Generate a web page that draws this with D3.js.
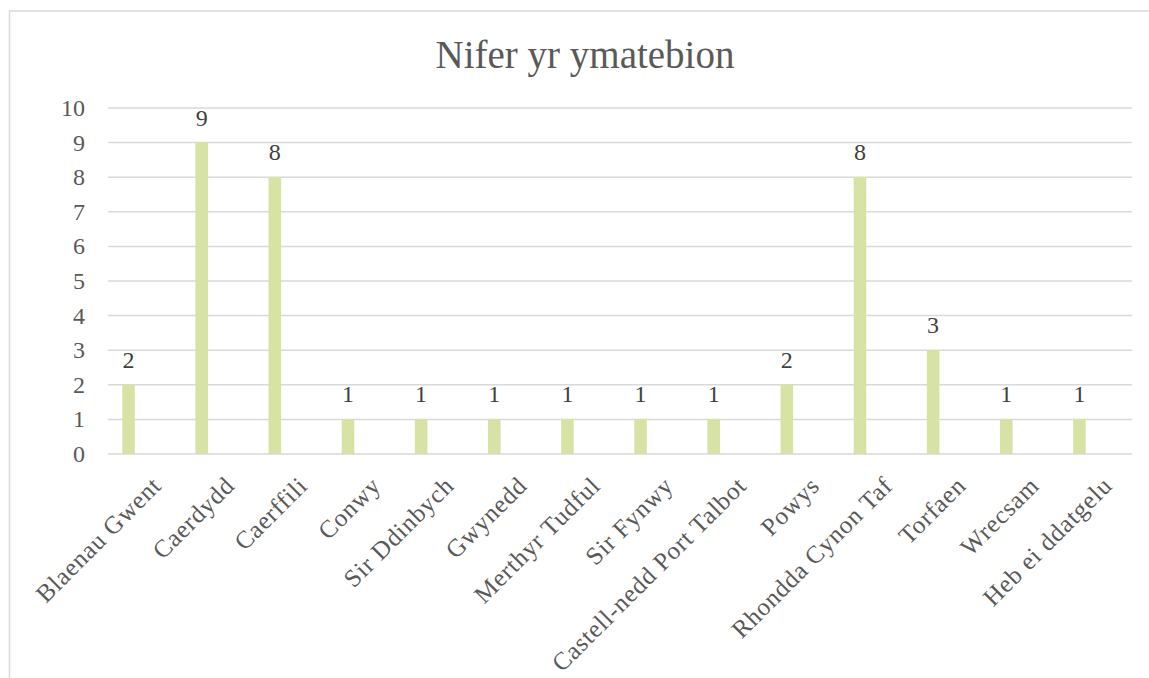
<!DOCTYPE html>
<html>
<head>
<meta charset="utf-8">
<script src="https://cdn.jsdelivr.net/npm/d3@7"></script>
<style>
  html, body { margin: 0; padding: 0; background: #fff; overflow: hidden; }
  svg { display: block; font-family: 'Liberation Serif', serif; }
</style>
</head>
<body>
<svg id="chart"></svg>
<script>
// data
const categories = [
  'Blaenau Gwent', 'Caerdydd', 'Caerffili', 'Conwy', 'Sir Ddinbych', 'Gwynedd',
  'Merthyr Tudful', 'Sir Fynwy', 'Castell-nedd Port Talbot', 'Powys',
  'Rhondda Cynon Taf', 'Torfaen', 'Wrecsam', 'Heb ei ddatgelu'
];
const values = [2, 9, 8, 1, 1, 1, 1, 1, 1, 2, 8, 3, 1, 1];
const yTicks = [0, 1, 2, 3, 4, 5, 6, 7, 8, 9, 10];
const title = 'Nifer yr ymatebion';

const WIDTH = 1149;
const HEIGHT = 678;
const MARGINS = { top: 108, left: 108, right: 17, bottom: 224 };
const CHART_WIDTH = WIDTH - MARGINS.left - MARGINS.right;
const CHART_HEIGHT = HEIGHT - MARGINS.top - MARGINS.bottom;

const svg = d3.select('#chart').attr('width', WIDTH).attr('height', HEIGHT);

// chart frame (only top and left edges show in the window)
svg.append('rect')
  .attr('x', 9.5).attr('y', 11)
  .attr('width', WIDTH + 20).attr('height', HEIGHT + 20)
  .attr('fill', 'none')
  .attr('stroke', '#d9d9d9')
  .attr('stroke-width', 1.5);

svg.append('text')
  .attr('x', 585)
  .attr('y', 68)
  .attr('text-anchor', 'middle')
  .style('font-size', '39px')
  .attr('fill', '#595959')
  .text(title);

const chart = svg.append('g')
  .attr('transform', `translate(${MARGINS.left},${MARGINS.top})`);

const x = d3.scaleBand().domain(categories).range([0, CHART_WIDTH]).padding(0);
const y = d3.scaleLinear().domain([0, 10]).range([CHART_HEIGHT, 0]);

// gridlines
chart.selectAll('.grid')
  .data(yTicks)
  .enter()
  .append('line')
  .attr('x1', 0)
  .attr('x2', CHART_WIDTH)
  .attr('y1', (d) => y(d))
  .attr('y2', (d) => y(d))
  .attr('stroke', '#d9d9d9')
  .attr('stroke-width', 1.5);

// y tick labels
chart.selectAll('.ytick')
  .data(yTicks)
  .enter()
  .append('text')
  .attr('x', -23)
  .attr('y', (d) => y(d))
  .attr('dy', '0.33em')
  .attr('text-anchor', 'end')
  .style('font-size', '24px')
  .attr('fill', '#595959')
  .text((d) => d);

// bars sit left of the category centre (clustered layout)
const barOffset = x.bandwidth() * 0.195;
const barWidth = x.bandwidth() * 0.172;

chart.selectAll('.bar')
  .data(values)
  .enter()
  .append('rect')
  .attr('x', (d, i) => x(categories[i]) + barOffset)
  .attr('width', barWidth)
  .attr('y', (d) => y(d))
  .attr('height', (d) => CHART_HEIGHT - y(d))
  .attr('fill', '#d7e3a5');

chart.selectAll('.label')
  .data(values)
  .enter()
  .append('text')
  .attr('x', (d, i) => x(categories[i]) + barOffset + barWidth / 2)
  .attr('y', (d) => y(d) - 17)
  .attr('text-anchor', 'middle')
  .style('font-size', '24px')
  .attr('fill', '#404040')
  .text((d) => d);

// category labels, rotated
chart.selectAll('.xlabel')
  .data(categories)
  .enter()
  .append('text')
  .attr('transform', (d) =>
    `translate(${x(d) + x.bandwidth() / 2 + 12},${CHART_HEIGHT + 27}) rotate(-45)`)
  .attr('dy', '0.35em')
  .attr('text-anchor', 'end')
  .style('font-size', '25px')
  .style('letter-spacing', '0.8px')
  .attr('fill', '#595959')
  .text((d) => d);
</script>
</body>
</html>
